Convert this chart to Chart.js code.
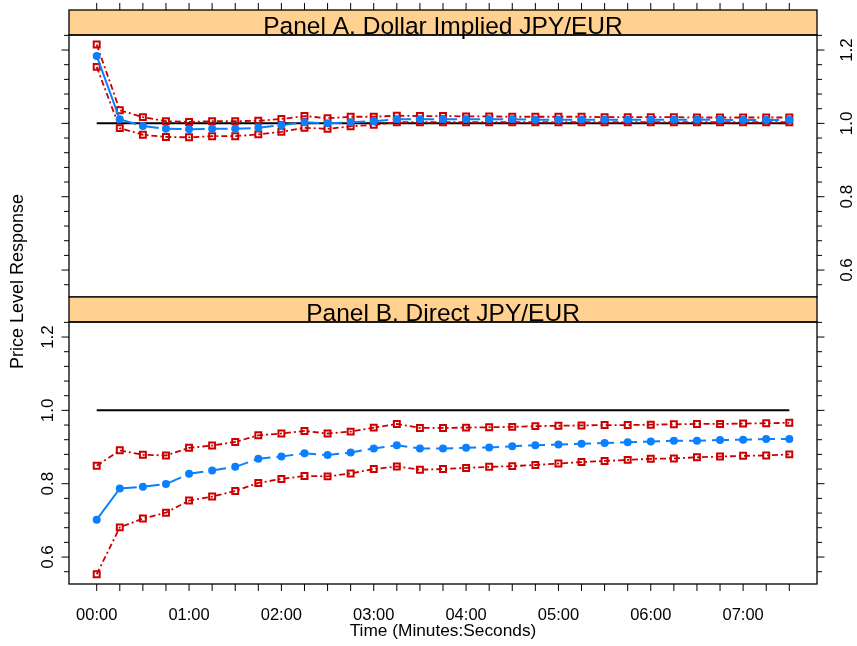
<!DOCTYPE html>
<html>
<head>
<meta charset="utf-8">
<script src="https://cdn.jsdelivr.net/npm/chart.js@4.4.1/dist/chart.umd.min.js"></script>
<style>
  html, body { margin: 0; padding: 0; background: #fff; }
  #wrap { position: relative; width: 857px; height: 646px; overflow: hidden; background: #fff; }
  #wrap canvas { position: absolute; left: 0; top: 0; }
</style>
</head>
<body>
<div id="wrap">
  <canvas id="panelA" width="857" height="646"></canvas>
  <canvas id="panelB" width="857" height="646"></canvas>
</div>
<script>
// Time after the event, in seconds (15-second steps)
const timeSec = [0, 15, 30, 45, 60, 75, 90, 105, 120, 135, 150, 165, 180, 195, 210, 225,
                 240, 255, 270, 285, 300, 315, 330, 345, 360, 375, 390, 405, 420, 435, 450];

// Labelled time ticks (minutes:seconds)
const xTickSec = [0, 60, 120, 180, 240, 300, 360, 420];
const xTickLabels = ['00:00', '01:00', '02:00', '03:00', '04:00', '05:00', '06:00', '07:00'];

// Labelled price-level ticks
const yTickValues = [0.6, 0.8, 1.0, 1.2];
const yTickLabels = ['0.6', '0.8', '1.0', '1.2'];

// Full-adjustment reference level
const refLevel = 1.0;

// Panel A: dollar implied JPY/EUR (point estimate and confidence band)
const aUpper  = [1.215, 1.036, 1.017, 1.006, 1.004, 1.006, 1.006, 1.007, 1.012, 1.020, 1.014, 1.018, 1.018, 1.021, 1.020, 1.020,
                 1.019, 1.019, 1.018, 1.018, 1.018, 1.018, 1.017, 1.017, 1.017, 1.017, 1.016, 1.016, 1.016, 1.016, 1.016];
const aCenter = [1.184, 1.011, 0.993, 0.985, 0.984, 0.985, 0.985, 0.988, 0.995, 1.003, 1.000, 1.003, 1.006, 1.011, 1.011, 1.011,
                 1.011, 1.011, 1.011, 1.010, 1.010, 1.010, 1.010, 1.010, 1.010, 1.010, 1.010, 1.010, 1.009, 1.009, 1.009];
const aLower  = [1.154, 0.987, 0.969, 0.963, 0.962, 0.965, 0.965, 0.970, 0.977, 0.988, 0.985, 0.992, 0.996, 1.003, 1.003, 1.003,
                 1.003, 1.003, 1.003, 1.003, 1.003, 1.003, 1.003, 1.003, 1.003, 1.003, 1.003, 1.003, 1.003, 1.003, 1.003];

// Panel B: direct JPY/EUR (point estimate and confidence band)
const bUpper  = [0.849, 0.891, 0.879, 0.877, 0.898, 0.904, 0.914, 0.932, 0.937, 0.944, 0.937, 0.942, 0.953, 0.963, 0.952, 0.952,
                 0.953, 0.954, 0.955, 0.957, 0.958, 0.959, 0.960, 0.960, 0.961, 0.962, 0.963, 0.963, 0.964, 0.965, 0.966];
const bCenter = [0.702, 0.787, 0.792, 0.799, 0.827, 0.836, 0.846, 0.868, 0.874, 0.883, 0.878, 0.885, 0.896, 0.905, 0.896, 0.896,
                 0.898, 0.899, 0.902, 0.905, 0.907, 0.909, 0.911, 0.913, 0.915, 0.917, 0.917, 0.919, 0.920, 0.922, 0.922];
const bLower  = [0.553, 0.681, 0.705, 0.721, 0.754, 0.765, 0.780, 0.802, 0.813, 0.821, 0.820, 0.828, 0.840, 0.847, 0.838, 0.840,
                 0.843, 0.846, 0.848, 0.851, 0.855, 0.859, 0.862, 0.865, 0.868, 0.869, 0.872, 0.874, 0.876, 0.877, 0.880];

const FONT = '"Liberation Sans", Arial, Helvetica, sans-serif';
const RED = '#CC0000';
const BLUE = '#0A80FF';
const STRIP = '#FFD08F';
const STRIP_H = 25;
const BLUE_DASH = [17, 6];

const toPoints = vals => vals.map((v, i) => ({ x: timeSec[i], y: v }));

// Long steep segments of the estimate line are drawn solid, the rest long-dashed
const blueSegmentDash = ctx => {
  const len = Math.hypot(ctx.p1.x - ctx.p0.x, ctx.p1.y - ctx.p0.y);
  return len > 30 ? [] : BLUE_DASH;
};

// Lattice-style decorations: strip, frame, ticks and labels
const panelDecor = {
  id: 'panelDecor',
  afterDraw(chart, args, o) {
    const { ctx, chartArea: a, scales: { x, y } } = chart;
    ctx.save();

    // strip above the panel
    const sTop = a.top - STRIP_H;
    ctx.fillStyle = STRIP;
    ctx.fillRect(a.left, sTop, a.right - a.left, STRIP_H);
    ctx.strokeStyle = '#000';
    ctx.lineWidth = 1.3;
    ctx.strokeRect(a.left, sTop, a.right - a.left, STRIP_H);

    // panel frame
    ctx.strokeRect(a.left, a.top, a.right - a.left, a.bottom - a.top);

    // y ticks on both sides, every 0.04, longer at labelled values
    ctx.lineWidth = 1;
    ctx.beginPath();
    for (let k = 0; k < 60; k++) {
      const v = k * 0.04;
      if (v < y.min || v > y.max) continue;
      const py = y.getPixelForValue(v);
      const major = yTickValues.some(t => Math.abs(t - v) < 1e-6);
      const len = major ? 7.5 : 5;
      ctx.moveTo(a.left, py); ctx.lineTo(a.left - len, py);
      ctx.moveTo(a.right, py); ctx.lineTo(a.right + len, py);
    }
    // x ticks every 15 seconds
    timeSec.forEach(t => {
      const px = x.getPixelForValue(t);
      if (o.topTicks) { ctx.moveTo(px, sTop); ctx.lineTo(px, sTop - 7); }
      if (o.bottomTicks) { ctx.moveTo(px, a.bottom); ctx.lineTo(px, a.bottom + 7); }
    });
    ctx.stroke();

    // rotated y tick labels
    ctx.fillStyle = '#000';
    ctx.font = '17px ' + FONT;
    ctx.textAlign = 'center';
    ctx.textBaseline = 'alphabetic';
    yTickValues.forEach((v, i) => {
      const py = y.getPixelForValue(v);
      const bx = o.labelSide === 'right' ? a.right + 35 : a.left - 16;
      ctx.save();
      ctx.translate(bx, py);
      ctx.rotate(-Math.PI / 2);
      ctx.fillText(yTickLabels[i], 0, 0);
      ctx.restore();
    });

    // x tick labels and axis titles
    if (o.bottomTicks) {
      ctx.font = '16.5px ' + FONT;
      xTickSec.forEach((t, i) => {
        ctx.fillText(xTickLabels[i], x.getPixelForValue(t), a.bottom + 36);
      });
      ctx.font = '17.3px ' + FONT;
      ctx.fillText('Time (Minutes:Seconds)', (a.left + a.right) / 2, a.bottom + 52);
    }
    if (o.yTitle) {
      ctx.font = '18px ' + FONT;
      ctx.save();
      ctx.translate(23, 281.5);
      ctx.rotate(-Math.PI / 2);
      ctx.fillText(o.yTitle, 0, 0);
      ctx.restore();
    }

    // strip title
    ctx.font = '24.5px ' + FONT;
    ctx.fillText(o.title, (a.left + a.right) / 2, a.top - 1);

    ctx.restore();
  }
};

function makePanel(id, padding, upper, center, lower, decor) {
  const redLine = vals => ({
    data: toPoints(vals),
    borderColor: RED,
    borderWidth: 1.8,
    borderDash: [6, 3, 2, 3],
    pointStyle: 'rect',
    pointRadius: 4.2,
    pointBorderWidth: 2,
    pointBorderColor: RED,
    pointBackgroundColor: 'rgba(255,255,255,0)',
    tension: 0
  });
  return new Chart(document.getElementById(id), {
    type: 'line',
    data: {
      datasets: [
        {
          data: toPoints(center),
          borderColor: BLUE,
          borderWidth: 2,
          borderDash: BLUE_DASH,
          segment: { borderDash: blueSegmentDash },
          pointStyle: 'circle',
          pointRadius: 4,
          pointBorderWidth: 0,
          pointBackgroundColor: BLUE,
          tension: 0
        },
        redLine(upper),
        redLine(lower),
        {
          data: [{ x: timeSec[0], y: refLevel }, { x: timeSec[timeSec.length - 1], y: refLevel }],
          borderColor: '#000',
          borderWidth: 2,
          pointRadius: 0,
          tension: 0
        }
      ]
    },
    options: {
      responsive: false,
      devicePixelRatio: 1,
      animation: false,
      events: [],
      layout: { padding },
      scales: {
        x: { type: 'linear', min: -18, max: 468, display: false },
        y: { type: 'linear', min: 0.5265, max: 1.241, display: false }
      },
      plugins: {
        legend: { display: false },
        title: { display: false },
        tooltip: { enabled: false },
        panelDecor: decor
      }
    },
    plugins: [panelDecor]
  });
}

makePanel('panelA', { left: 69, right: 40, top: 35, bottom: 349 }, aUpper, aCenter, aLower,
  { title: 'Panel A. Dollar Implied JPY/EUR', labelSide: 'right', topTicks: true, bottomTicks: false });
makePanel('panelB', { left: 69, right: 40, top: 322, bottom: 62 }, bUpper, bCenter, bLower,
  { title: 'Panel B. Direct JPY/EUR', labelSide: 'left', topTicks: false, bottomTicks: true, yTitle: 'Price Level Response' });
</script>
</body>
</html>
